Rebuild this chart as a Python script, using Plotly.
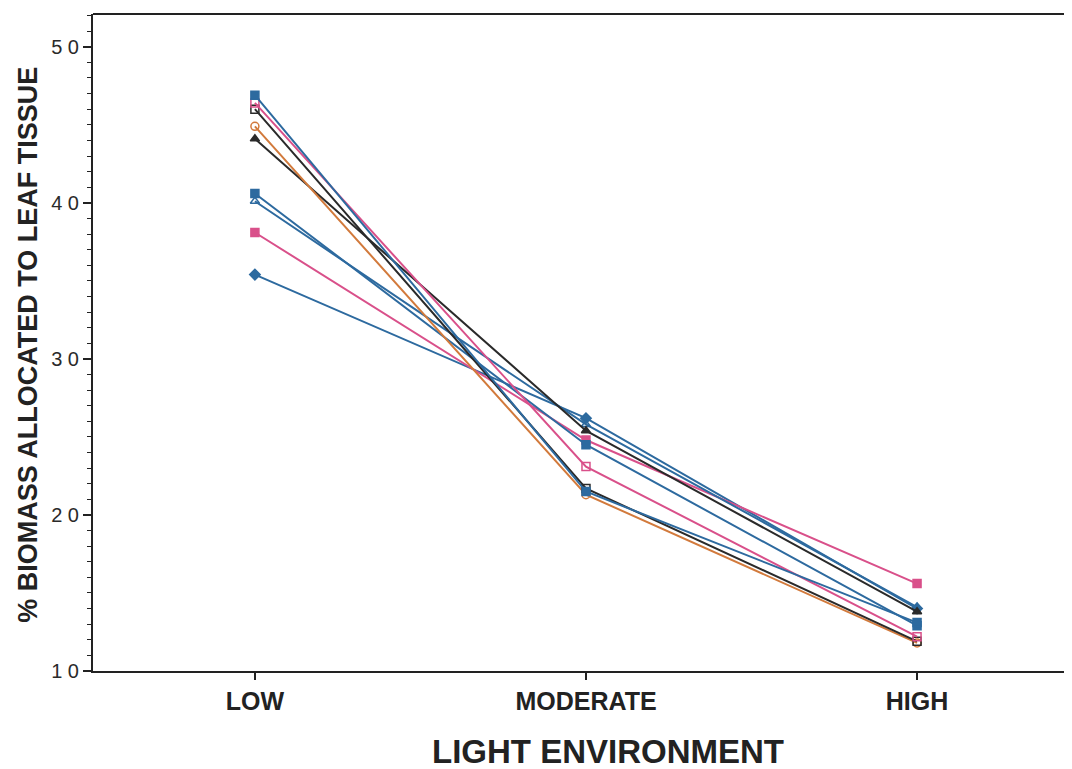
import plotly.graph_objects as go

# light environment categories
light = ["LOW", "MODERATE", "HIGH"]

# % biomass to leaf tissue, one list per population
s_blue_sq1 = [46.9, 21.5, 13.1]
s_pink_open = [46.4, 23.1, 12.2]
s_black_open = [46.0, 21.7, 11.9]
s_orange_circ = [44.9, 21.3, 11.8]
s_black_tri = [44.1, 25.4, 13.8]
s_blue_sq2 = [40.6, 24.5, 12.9]
s_blue_tri = [40.1, 25.8, 14.1]
s_pink_sq = [38.1, 24.8, 15.6]
s_blue_dia = [35.4, 26.2, 14.0]

BLUE = "#2d6a9f"
PINK = "#d9508a"
BLACK = "#2a2a2a"
ORANGE = "#d27a3c"
FONT = "Liberation Sans Narrow, Liberation Sans, Arial"

series = [
    (s_blue_dia, BLUE, "diamond"),
    (s_pink_sq, PINK, "square"),
    (s_blue_tri, BLUE, "triangle-up-open"),
    (s_blue_sq2, BLUE, "square"),
    (s_black_tri, BLACK, "triangle-up"),
    (s_orange_circ, ORANGE, "circle-open"),
    (s_black_open, BLACK, "square-open"),
    (s_pink_open, PINK, "square-open"),
    (s_blue_sq1, BLUE, "square"),
]

fig = go.Figure()
xpos = [0, 1, 2]
for vals, col, sym in series:
    fig.add_trace(go.Scatter(
        x=xpos, y=vals, mode="lines+markers",
        line=dict(color=col, width=2),
        marker=dict(symbol=sym, size=8, color=col, line=dict(color=col, width=1.5)),
        showlegend=False,
    ))

# top border of the frame
fig.add_shape(type="line", xref="paper", yref="paper", x0=0, x1=1, y0=1, y1=1,
              line=dict(color="#222", width=2))

fig.update_xaxes(
    range=[-0.489, 2.468], automargin=False,
    tickvals=xpos, ticktext=["<b>%s</b>" % t for t in light],
    ticks="outside", ticklen=7, tickwidth=1.5, tickcolor="#222",
    showline=True, linecolor="#222", linewidth=2,
    showgrid=False, zeroline=False,
    tickfont=dict(family=FONT, size=25, color="#222"),
)
fig.update_yaxes(
    range=[10, 52.1], automargin=False,
    tickvals=[10, 20, 30, 40, 50],
    ticktext=["1 0", "2 0", "3 0", "4 0", "5 0"],
    ticks="outside", ticklen=8, tickwidth=1.5, tickcolor="#222",
    minor=dict(dtick=1, ticks="outside", ticklen=4, tickcolor="#222", tickwidth=1),
    showline=True, linecolor="#222", linewidth=2,
    showgrid=False, zeroline=False,
    tickfont=dict(family="Liberation Sans, Arial", size=20, color="#2a2a2a"),
)

# axis titles placed by hand
fig.add_annotation(text="<b>LIGHT ENVIRONMENT</b>", xref="paper", yref="paper",
                   x=0.526, y=-0.123, xanchor="center", yanchor="middle", showarrow=False,
                   font=dict(family=FONT, size=33, color="#222"))
fig.add_annotation(text="<b>% BIOMASS ALLOCATED TO LEAF TISSUE</b>", xref="paper", yref="paper",
                   x=-0.066, y=0.497, xanchor="center", yanchor="middle", textangle=-90,
                   showarrow=False, font=dict(family=FONT, size=27, color="#222"))

# page body has an 8px margin, so margins are shifted to land the axes where the reference has them
fig.update_layout(
    width=1072, height=769,
    margin=dict(l=85, r=8, t=6, b=106),
    plot_bgcolor="white", paper_bgcolor="white",
)

fig.write_html("out.html")
